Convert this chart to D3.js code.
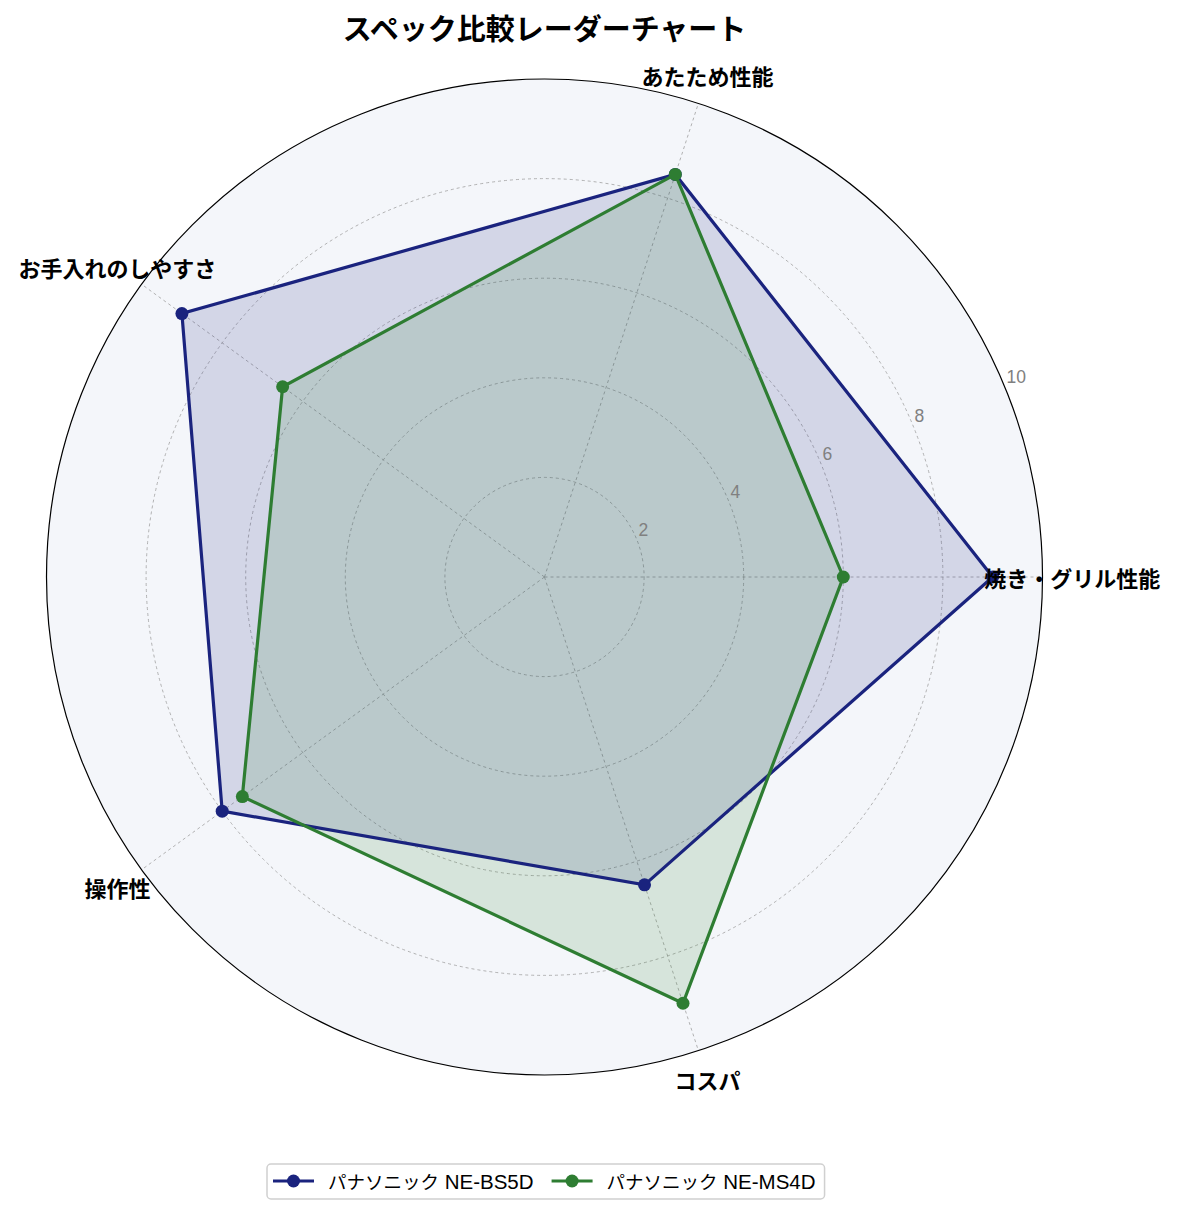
<!DOCTYPE html>
<meta charset="utf-8">
<script src="https://d3js.org/d3.v7.min.js"></script>
<style>
  body { margin: 0; background: #fff; }
  text { font-family: "Noto Sans CJK JP", "Noto Sans", sans-serif; }
  .grid circle { fill: none; stroke: #a0a0a0; stroke-dasharray: 3 3; stroke-width: 0.8; }
  .spoke { stroke: #a0a0a0; stroke-dasharray: 3 3; stroke-width: 0.8; }
</style>
<svg id="radar"></svg>
<script>
const WIDTH  = 1178;
const HEIGHT = 1214;
const CX = 544.5, CY = 577, R = 498;

// data
const axes      = ['焼き・グリル性能', 'あたため性能', 'お手入れのしやすさ', '操作性', 'コスパ'];
const bs5d      = [9, 8.5, 9, 8, 6.5];
const ms4d      = [6, 8.5, 6.5, 7.5, 9];
const names     = ['パナソニック NE-BS5D', 'パナソニック NE-MS4D'];
const colors    = ['#1a237e', '#2e7d32'];
const rTicks    = [2, 4, 6, 8, 10];

const series = [
  { name: names[0], values: bs5d, color: colors[0] },
  { name: names[1], values: ms4d, color: colors[1] }
];

const svg = d3.select('#radar')
  .attr('width', WIDTH)
  .attr('height', HEIGHT);

const rScale = d3.scaleLinear().domain([0, 10]).range([0, R]);
// angle in radians, counter-clockwise from the right
const angle = d3.scalePoint().domain(d3.range(axes.length + 1)).range([0, 2 * Math.PI]);
const px = (i, v) => CX + rScale(v) * Math.cos(angle(i));
const py = (i, v) => CY - rScale(v) * Math.sin(angle(i));

const g = svg.append('g');

// background
g.append('circle')
  .attr('cx', CX).attr('cy', CY).attr('r', rScale(10))
  .style('fill', '#f4f6fa');

// rings
g.append('g').attr('class', 'grid')
  .selectAll('circle')
  .data(rTicks.slice(0, -1))
  .join('circle')
    .attr('cx', CX).attr('cy', CY)
    .attr('r', d => rScale(d));

// spokes
g.selectAll('.spoke')
  .data(axes)
  .join('line')
    .attr('class', 'spoke')
    .attr('x1', CX).attr('y1', CY)
    .attr('x2', (d, i) => px(i, 10))
    .attr('y2', (d, i) => py(i, 10));

// series
const line = d3.line()
  .x((d, i) => px(i, d))
  .y((d, i) => py(i, d))
  .curve(d3.curveLinearClosed);

series.forEach(s => {
  g.append('path')
    .attr('d', line(s.values))
    .style('fill', s.color)
    .style('fill-opacity', 0.15)
    .style('stroke', 'none');
});

series.forEach(s => {
  g.append('path')
    .attr('d', line(s.values))
    .style('fill', 'none')
    .style('stroke', s.color)
    .style('stroke-width', 3.2)
    .style('stroke-linejoin', 'miter');
  g.selectAll(null)
    .data(s.values)
    .join('circle')
      .attr('cx', (d, i) => px(i, d))
      .attr('cy', (d, i) => py(i, d))
      .attr('r', 6.5)
      .style('fill', s.color);
});

// outer circle
g.append('circle')
  .attr('cx', CX).attr('cy', CY).attr('r', rScale(10))
  .style('fill', 'none')
  .style('stroke', '#000')
  .style('stroke-width', 1.2);

// radial tick labels at 22.5 deg
const tickAng = Math.PI / 8;
g.selectAll('.rtick')
  .data(rTicks)
  .join('text')
    .attr('class', 'rtick')
    .attr('x', d => CX + rScale(d) * Math.cos(tickAng) + 2)
    .attr('y', d => CY - rScale(d) * Math.sin(tickAng) - 3)
    .style('font-family', '"Liberation Sans", "Noto Sans", sans-serif')
    .style('font-size', '17.5px')
    .style('fill', '#808080')
    .text(d => d);

// axis labels
g.selectAll('.axlabel')
  .data(axes)
  .join('text')
    .attr('class', 'axlabel')
    .attr('x', (d, i) => px(i, 10.6))
    .attr('y', (d, i) => py(i, 10.6))
    .attr('text-anchor', 'middle')
    .attr('dominant-baseline', 'central')
    .style('font-size', '22px')
    .style('font-weight', 'bold')
    .text(d => d);

// title
svg.append('text')
  .attr('x', CX).attr('y', 27)
  .attr('text-anchor', 'middle')
  .attr('dominant-baseline', 'central')
  .style('font-size', '29px')
  .style('font-weight', 'bold')
  .text('スペック比較レーダーチャート');

// legend
const leg = svg.append('g');
const legBox = leg.append('rect')
  .attr('rx', 4)
  .style('fill', '#fff')
  .style('stroke', '#d0d0d0')
  .style('stroke-width', 1.5);

let lx = 273;
const ly = 1181;
series.forEach(s => {
  const it = leg.append('g');
  it.append('line')
    .attr('x1', lx).attr('x2', lx + 41)
    .attr('y1', ly).attr('y2', ly)
    .style('stroke', s.color).style('stroke-width', 3.2);
  it.append('circle')
    .attr('cx', lx + 20.5).attr('cy', ly).attr('r', 6.5)
    .style('fill', s.color);
  const parts = s.name.split(' ');
  const t = it.append('text')
    .attr('x', lx + 55).attr('y', ly)
    .attr('dominant-baseline', 'central')
    .style('font-size', '18.5px');
  t.append('tspan')
    .text(parts[0]);
  t.append('tspan')
    .style('font-family', '"Liberation Sans", sans-serif')
    .style('font-size', '20.5px')
    .text(' ' + parts[1]);
  lx = lx + 55 + t.node().getComputedTextLength() + 18;
});
legBox
  .attr('x', 267).attr('y', 1164)
  .attr('width', lx - 267 - 9)
  .attr('height', 35);
</script>
